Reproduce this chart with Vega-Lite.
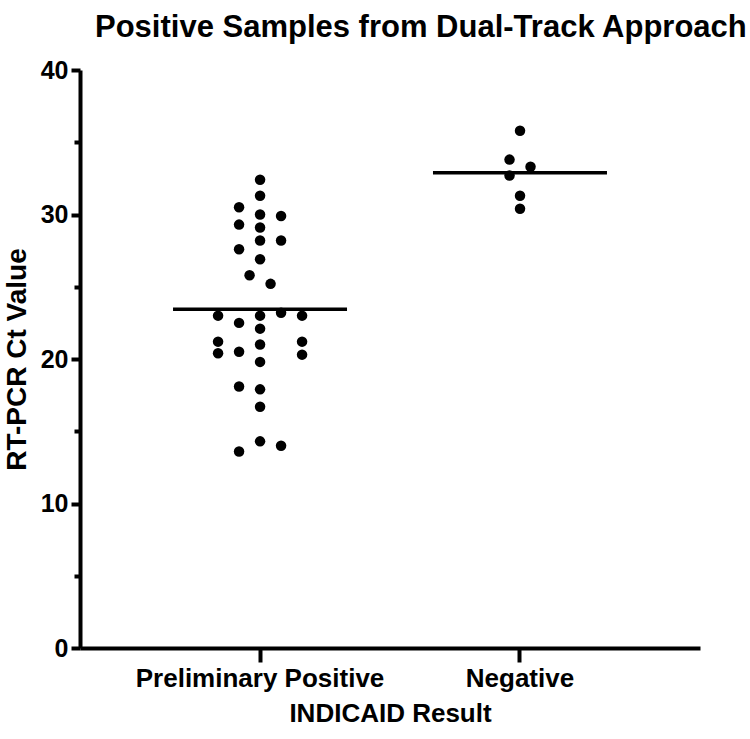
{
  "$schema": "https://vega.github.io/schema/vega-lite/v6.json",
  "width": 620,
  "height": 578,
  "autosize": "none",
  "padding": {"left": 80, "top": 70, "right": 50, "bottom": 91},
  "config": {
    "view": {"stroke": null},
    "font": "Liberation Sans",
    "axis": {"domainColor": "black", "tickColor": "black", "labelColor": "black", "titleColor": "black", "grid": false}
  },
  "title": {
    "text": "Positive Samples from Dual-Track Approach",
    "anchor": "start",
    "frame": "group",
    "dx": 15,
    "offset": 14,
    "fontSize": 31,
    "fontWeight": "bold",
    "font": "Liberation Sans",
    "color": "black"
  },
  "data": {
    "values": [
      {"group": "Preliminary Positive", "ct": 32.4, "slot": 0},
      {"group": "Preliminary Positive", "ct": 31.3, "slot": 0},
      {"group": "Preliminary Positive", "ct": 30.5, "slot": -2},
      {"group": "Preliminary Positive", "ct": 30.0, "slot": 0},
      {"group": "Preliminary Positive", "ct": 29.9, "slot": 2},
      {"group": "Preliminary Positive", "ct": 29.3, "slot": -2},
      {"group": "Preliminary Positive", "ct": 29.1, "slot": 0},
      {"group": "Preliminary Positive", "ct": 28.2, "slot": 0},
      {"group": "Preliminary Positive", "ct": 28.2, "slot": 2},
      {"group": "Preliminary Positive", "ct": 27.6, "slot": -2},
      {"group": "Preliminary Positive", "ct": 26.9, "slot": 0},
      {"group": "Preliminary Positive", "ct": 25.8, "slot": -1},
      {"group": "Preliminary Positive", "ct": 25.2, "slot": 1},
      {"group": "Preliminary Positive", "ct": 23.0, "slot": -4},
      {"group": "Preliminary Positive", "ct": 23.0, "slot": 0},
      {"group": "Preliminary Positive", "ct": 23.2, "slot": 2},
      {"group": "Preliminary Positive", "ct": 23.0, "slot": 4},
      {"group": "Preliminary Positive", "ct": 22.5, "slot": -2},
      {"group": "Preliminary Positive", "ct": 22.1, "slot": 0},
      {"group": "Preliminary Positive", "ct": 21.2, "slot": -4},
      {"group": "Preliminary Positive", "ct": 21.2, "slot": 4},
      {"group": "Preliminary Positive", "ct": 21.0, "slot": 0},
      {"group": "Preliminary Positive", "ct": 20.4, "slot": -4},
      {"group": "Preliminary Positive", "ct": 20.5, "slot": -2},
      {"group": "Preliminary Positive", "ct": 20.3, "slot": 4},
      {"group": "Preliminary Positive", "ct": 19.8, "slot": 0},
      {"group": "Preliminary Positive", "ct": 18.1, "slot": -2},
      {"group": "Preliminary Positive", "ct": 17.9, "slot": 0},
      {"group": "Preliminary Positive", "ct": 16.7, "slot": 0},
      {"group": "Preliminary Positive", "ct": 14.3, "slot": 0},
      {"group": "Preliminary Positive", "ct": 13.6, "slot": -2},
      {"group": "Preliminary Positive", "ct": 14.0, "slot": 2},
      {"group": "Negative", "ct": 35.8, "slot": 0},
      {"group": "Negative", "ct": 33.8, "slot": -1},
      {"group": "Negative", "ct": 33.3, "slot": 1},
      {"group": "Negative", "ct": 32.7, "slot": -1},
      {"group": "Negative", "ct": 31.3, "slot": 0},
      {"group": "Negative", "ct": 30.4, "slot": 0}
    ]
  },
  "encoding": {
    "x": {
      "field": "group",
      "type": "nominal",
      "sort": ["Preliminary Positive", "Negative"],
      "scale": {"paddingInner": 0.331, "paddingOuter": 0.358},
      "axis": {
        "title": "INDICAID Result",
        "labelAngle": 0,
        "labelLimit": 0,
        "labelFontSize": 26,
        "labelFontWeight": "bold",
        "labelPadding": 3,
        "titleFontSize": 26,
        "titleFontWeight": "bold",
        "titlePadding": 9,
        "domainWidth": 4,
        "tickWidth": 4,
        "tickSize": 14
      }
    },
    "y": {
      "type": "quantitative",
      "scale": {"domain": [0, 40], "nice": false, "zero": true},
      "axis": {
        "title": "RT-PCR Ct Value",
        "values": [0, 5, 10, 15, 20, 25, 30, 35, 40],
        "labelExpr": "datum.value % 10 === 0 ? datum.label : ''",
        "labelFontSize": 25,
        "labelFontWeight": "bold",
        "labelPadding": 3,
        "titleFontSize": 28,
        "titleFontWeight": "bold",
        "titlePadding": 9,
        "domainWidth": 4,
        "tickWidth": 4,
        "tickSize": {"condition": {"test": "datum.value % 10 === 0", "value": 9}, "value": 6}
      }
    }
  },
  "layer": [
    {
      "mark": {"type": "circle", "size": 110, "color": "black", "opacity": 1},
      "encoding": {
        "y": {"field": "ct", "type": "quantitative"},
        "xOffset": {"field": "slot", "type": "quantitative", "scale": {"domain": [-4, 4], "range": [45, 129]}}
      }
    },
    {
      "mark": {"type": "tick", "size": 174, "thickness": 3.5, "color": "black", "opacity": 1},
      "encoding": {
        "y": {"field": "ct", "type": "quantitative", "aggregate": "mean"}
      }
    }
  ]
}
